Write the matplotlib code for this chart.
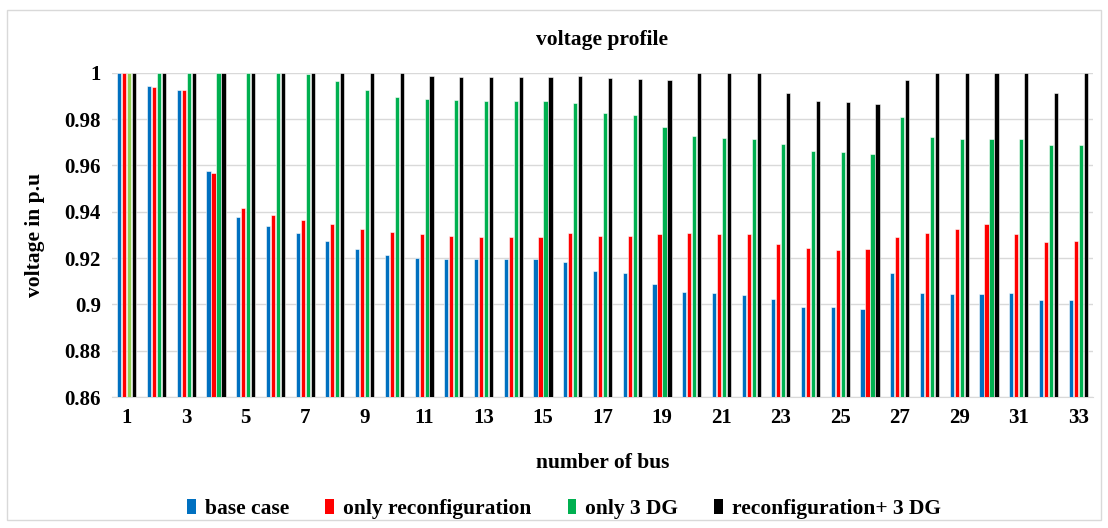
import numpy as np
import matplotlib
matplotlib.use("Agg")
import matplotlib.pyplot as plt
from matplotlib.patches import Rectangle, Patch

buses = list(range(1, 34))

base_case = [1.0, 0.9942, 0.9928, 0.9578, 0.9378, 0.9339, 0.9307, 0.9272, 0.9241,
             0.9212, 0.9202, 0.9197, 0.9197, 0.9195, 0.9195, 0.9184, 0.9146, 0.9135,
             0.9089, 0.9055, 0.9048, 0.9040, 0.9023, 0.8991, 0.8991, 0.8981, 0.9135,
             0.9050, 0.9045, 0.9045, 0.9048, 0.9020, 0.9020]
only_reconf = [1.0, 0.9938, 0.9928, 0.9569, 0.9416, 0.9385, 0.9366, 0.9346, 0.9327,
               0.9314, 0.9304, 0.9297, 0.9292, 0.9292, 0.9292, 0.9307, 0.9297, 0.9297,
               0.9304, 0.9307, 0.9304, 0.9304, 0.9262, 0.9244, 0.9236, 0.9241, 0.9292,
               0.9310, 0.9324, 0.9346, 0.9304, 0.9268, 0.9272]
only_3dg = [1.0, 1.0, 1.0, 1.0, 1.0, 1.0, 0.9997, 0.9963, 0.9928,
            0.9896, 0.9885, 0.9882, 0.9879, 0.9879, 0.9879, 0.9869, 0.9827, 0.9816,
            0.9767, 0.9728, 0.9720, 0.9713, 0.9693, 0.9661, 0.9657, 0.9651, 0.9811,
            0.9723, 0.9716, 0.9713, 0.9716, 0.9689, 0.9689]
reconf_3dg = [1.0, 1.0, 1.0, 1.0, 1.0, 1.0, 1.0, 1.0, 1.0,
              0.9999, 0.9988, 0.9984, 0.9980, 0.9980, 0.9980, 0.9988, 0.9977, 0.9974,
              0.9970, 1.0, 1.0, 1.0, 0.9911, 0.9879, 0.9875, 0.9867, 0.9970,
              1.0, 1.0, 1.0, 1.0, 0.9911, 1.0]

series = [
    ("base case", base_case, "#0070C0"),
    ("only reconfiguration", only_reconf, "#FF0000"),
    ("only 3 DG", only_3dg, "#00B050"),
    ("reconfiguration+ 3 DG", reconf_3dg, "#000000"),
]

plt.rcParams["font.family"] = ["Liberation Serif", "DejaVu Serif"]
plt.rcParams["font.weight"] = "bold"
FS = 15.5

fig = plt.figure(figsize=(11.08, 5.28), dpi=100)
ax = fig.add_axes([0.101, 0.248, 0.8855, 0.614])

x = np.arange(len(buses))
slot = 0.168
bw = 0.14
for i, (name, vals, col) in enumerate(series):
    colors = [col] * len(vals)
    if name == "only 3 DG":
        colors[0] = "#92D050"  # first green bar is lighter in the original
    ax.bar(x + (i - 1.5) * slot, vals, width=bw, color=colors,
           edgecolor="white", linewidth=0.4, zorder=3)

ax.set_ylim(0.86, 1.0)
ax.set_xlim(-0.5, len(buses) - 0.5)
ax.set_yticks(np.arange(0.86, 1.001, 0.02))
ax.set_yticklabels(["0.86", "0.88", "0.9", "0.92", "0.94", "0.96", "0.98", "1"])
ax.set_xticks(x[::2])
ax.set_xticklabels([str(b) for b in buses[::2]])
ax.tick_params(length=0, labelsize=FS - 0.5, pad=8)
ax.grid(axis="y", color="#D9D9D9", linewidth=1, zorder=0)
for s in ["top", "right", "left"]:
    ax.spines[s].set_visible(False)
ax.spines["bottom"].set_color("#D9D9D9")

ax.set_title("voltage profile", fontsize=FS, fontweight="bold", pad=20)
ax.set_xlabel("number of bus", fontsize=FS, fontweight="bold", labelpad=18)
ax.set_ylabel("voltage in p.u", fontsize=FS, fontweight="bold", labelpad=14)

handles = [Patch(facecolor=c, edgecolor="none", label=n) for n, _, c in series]
fig.legend(handles=handles, loc="center", bbox_to_anchor=(0.509, 0.036), ncol=4,
           frameon=False, fontsize=FS, handlelength=0.4, handleheight=0.65,
           handletextpad=0.4, columnspacing=1.7)

fig.patches.append(Rectangle((0.006, 0.015), 0.988, 0.967, transform=fig.transFigure,
                             fill=False, edgecolor="#D9D9D9", linewidth=1))

fig.savefig("out.png", dpi=100)
